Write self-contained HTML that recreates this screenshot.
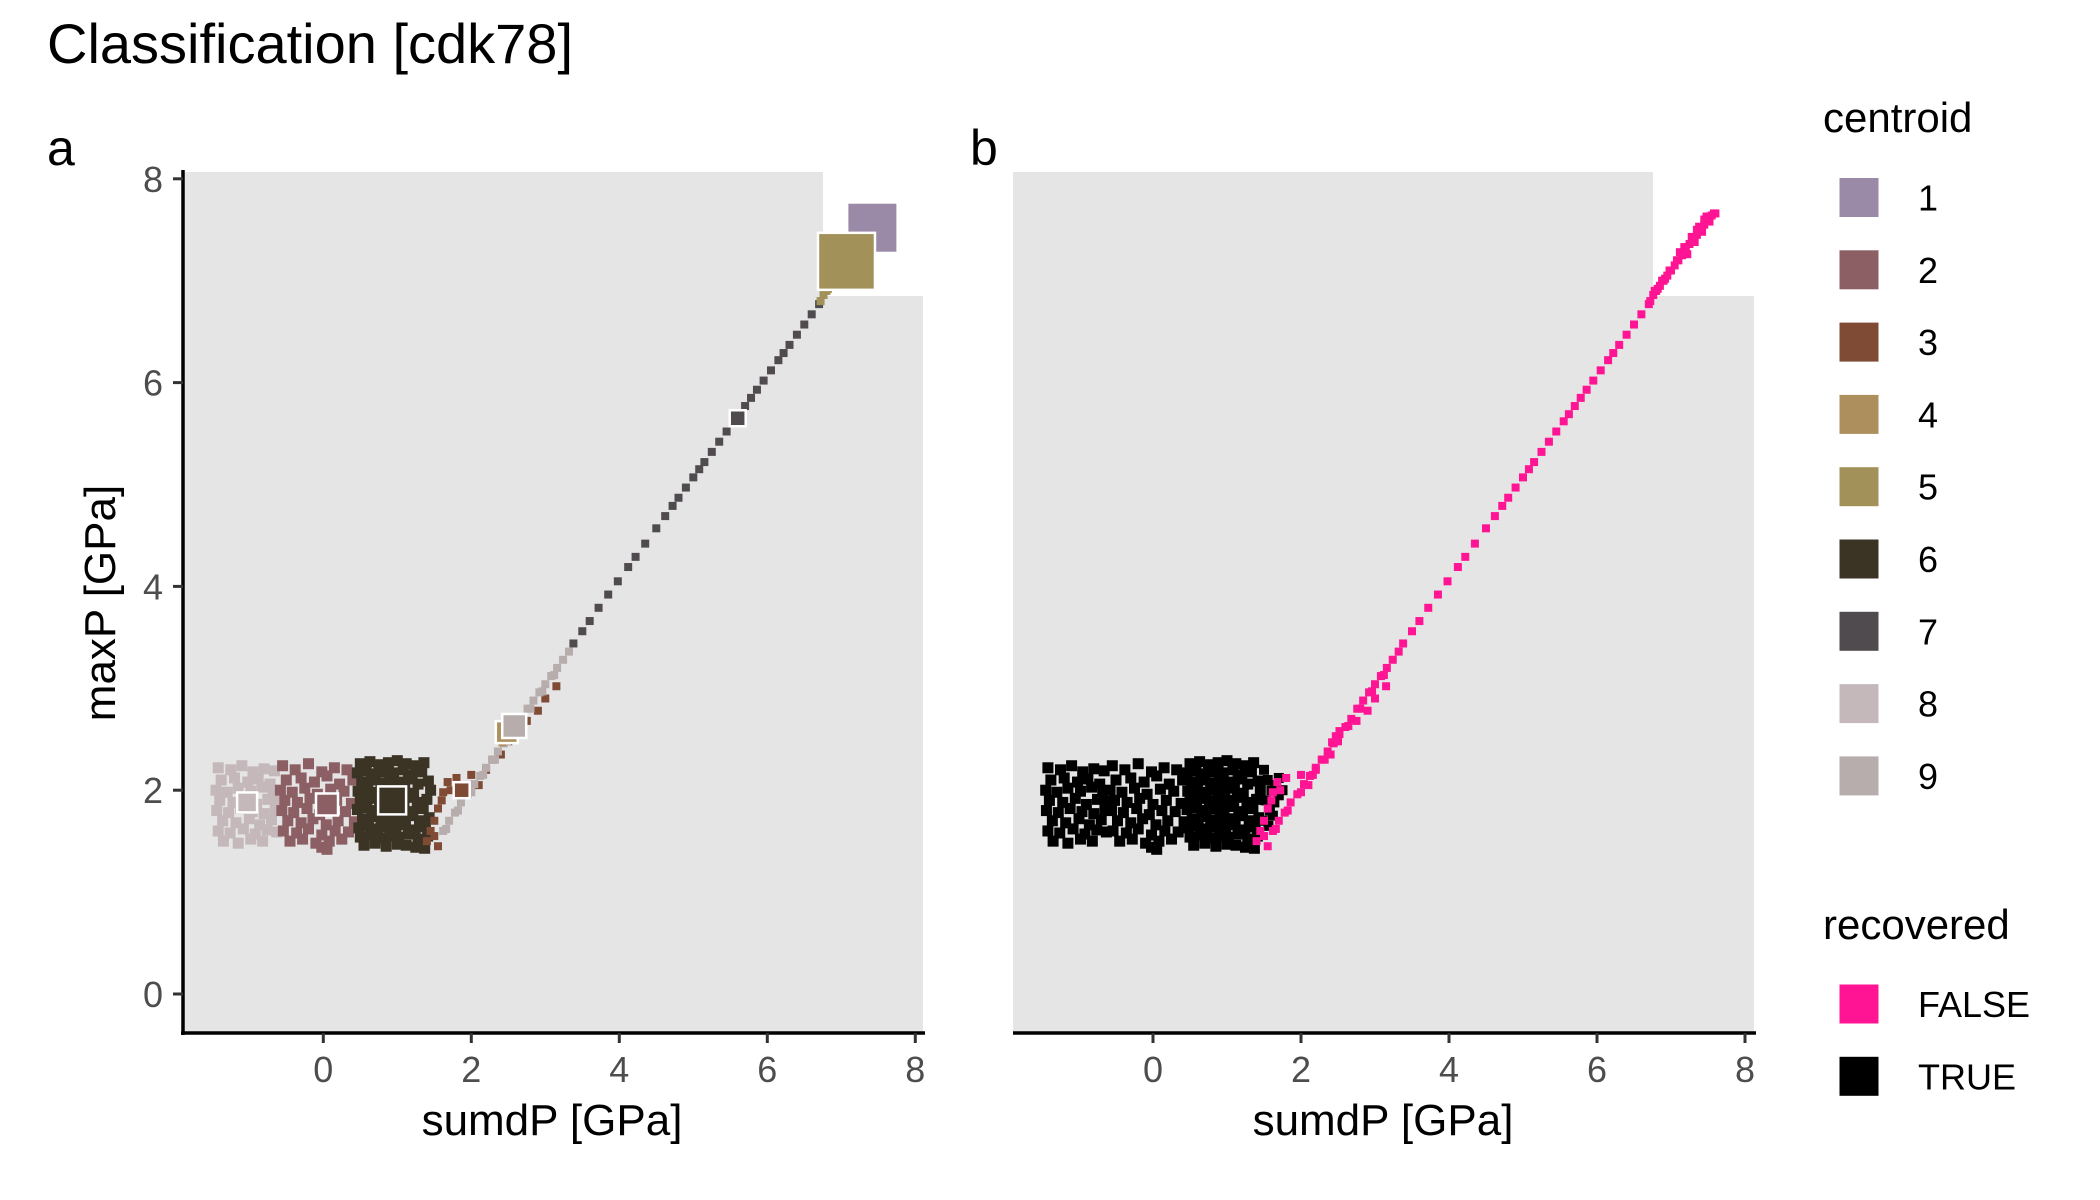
<!DOCTYPE html>
<html><head><meta charset="utf-8"><style>
body{margin:0;background:#fff}
svg{display:block;font-family:"Liberation Sans",Arial,sans-serif}
</style></head><body>
<svg id="chart" width="2100" height="1200" viewBox="0 0 2100 1200">
<text x="47" y="63" font-size="56" fill="#000">Classification [cdk78]</text>
<text x="47" y="165" font-size="50" fill="#000">a</text>
<text x="970" y="165" font-size="50" fill="#000">b</text>
<polygon points="183,172 823,172 823,296 923,296 923,1033 183,1033" fill="#e5e5e5"/>
<polygon points="1013,172 1653,172 1653,296 1754,296 1754,1033 1013,1033" fill="#e5e5e5"/>
<g id="marksA"></g>
<g id="marksB"></g>
<g id="axes"></g>
<text x="552" y="1135" font-size="44" text-anchor="middle" fill="#000">sumdP [GPa]</text>
<text x="1383" y="1135" font-size="44" text-anchor="middle" fill="#000">sumdP [GPa]</text>
<text transform="translate(115,603) rotate(-90)" font-size="44" text-anchor="middle" fill="#000">maxP [GPa]</text>
<g id="legend">
<text x="1823" y="132" font-size="42" fill="#000">centroid</text>
<text x="1823" y="939" font-size="42" fill="#000">recovered</text>
</g>
</svg>
<script>
const NS="http://www.w3.org/2000/svg";
const clusterIds=[1,2,3,4,5,6,7,8,9];
const clusterColors=["#9a89a7","#8b5f63","#7f4b35","#ad8f5e","#a29159","#3b3324","#504b4e","#c4b8bb","#b8adad"];
const xTicks=[0,2,4,6,8];
const yTicks=[0,2,4,6,8];
const c8x=[-1.42,-1.25,-1.1,-0.95,-0.8,-0.66,-1.38,-1.2,-1.02,-0.88,-0.72,-1.45,-1.3,-1.15,-0.98,-0.83,-0.68,-1.4,-1.22,-1.05,-0.9,-0.75,-0.62,-1.44,-1.28,-1.12,-0.96,-0.8,-0.65,-1.36,-1.18,-1.0,-0.86,-0.7,-1.42,-1.26,-1.08,-0.92,-0.76,-0.63,-1.35,-1.15,-0.98,-0.82];
const c8y=[2.22,2.2,2.24,2.18,2.21,2.19,2.1,2.12,2.08,2.11,2.06,2.0,1.98,2.02,1.99,2.03,1.97,1.9,1.88,1.92,1.86,1.91,1.89,1.8,1.78,1.82,1.79,1.77,1.81,1.7,1.68,1.72,1.66,1.71,1.6,1.58,1.62,1.57,1.61,1.59,1.5,1.48,1.52,1.5];
const c2x=[-0.55,-0.38,-0.2,-0.02,0.15,0.32,-0.5,-0.3,-0.12,0.05,0.22,0.4,-0.58,-0.42,-0.25,-0.08,0.1,0.28,-0.52,-0.35,-0.18,0.0,0.18,0.38,-0.56,-0.4,-0.22,-0.05,0.12,0.3,-0.48,-0.3,-0.14,0.04,0.2,0.42,-0.54,-0.36,-0.2,-0.02,0.16,0.34,-0.45,-0.28,-0.1,0.08,0.25,-0.02,0.05];
const c2y=[2.24,2.2,2.26,2.18,2.22,2.2,2.1,2.12,2.08,2.14,2.06,2.1,2.0,1.98,2.02,1.96,2.01,1.99,1.9,1.88,1.92,1.86,1.9,1.87,1.8,1.78,1.82,1.76,1.8,1.79,1.7,1.68,1.72,1.66,1.7,1.69,1.6,1.58,1.62,1.56,1.6,1.59,1.5,1.52,1.48,1.5,1.52,1.44,1.42];
const c6x=[0.5,0.63,0.75,0.88,1.0,1.12,1.25,1.36,0.46,0.58,0.7,0.83,0.95,1.08,1.2,1.33,0.52,0.65,0.78,0.9,1.03,1.15,1.28,1.42,0.47,0.6,0.72,0.85,0.97,1.1,1.22,1.45,0.5,0.62,0.76,0.88,1.01,1.14,1.27,1.4,0.46,0.59,0.71,0.84,0.96,1.09,1.21,1.35,0.53,0.66,0.78,0.91,1.04,1.16,1.3,1.43,0.48,0.61,0.73,0.86,0.98,1.11,1.24,1.38,0.5,0.64,0.77,0.9,1.02,1.15,1.28,1.41,0.55,0.7,0.85,1.0,1.12,1.25,1.32,1.37];
const c6y=[2.26,2.28,2.25,2.27,2.29,2.26,2.24,2.27,2.17,2.19,2.16,2.18,2.17,2.2,2.15,2.18,2.08,2.1,2.07,2.09,2.08,2.11,2.06,2.09,1.99,2.01,1.98,2.0,1.99,2.02,1.97,2.0,1.9,1.92,1.89,1.91,1.9,1.93,1.88,1.91,1.81,1.83,1.8,1.82,1.81,1.84,1.79,1.82,1.72,1.74,1.71,1.73,1.72,1.75,1.7,1.73,1.63,1.65,1.62,1.64,1.63,1.66,1.61,1.64,1.54,1.56,1.53,1.55,1.54,1.57,1.52,1.55,1.46,1.48,1.45,1.47,1.46,1.44,1.48,1.43];
const c3x=[1.4,1.45,1.5,1.55,1.6,1.68,1.8,2.0,2.1,2.2,2.3,2.4,2.5,2.75,2.9,3.0,3.15,1.55,1.5,1.62,1.72];
const c3y=[1.5,1.6,1.7,1.82,1.9,2.08,2.12,2.15,2.05,2.2,2.3,2.35,2.48,2.68,2.78,2.9,3.02,1.45,1.55,1.98,2.0];
const c9x=[1.62,1.7,1.78,1.86,1.95,2.04,2.12,2.2,2.28,2.36,2.44,2.52,2.6,2.68,2.76,2.84,2.92,3.0,3.08,3.16,3.24,3.32,1.66,1.82,2.0,2.16,2.32,2.48,2.64,2.8,2.96,3.12];
const c9y=[1.6,1.7,1.78,1.88,1.96,2.06,2.14,2.22,2.3,2.38,2.46,2.55,2.62,2.7,2.8,2.88,2.96,3.04,3.12,3.2,3.28,3.36,1.62,1.8,1.98,2.15,2.3,2.48,2.63,2.8,2.97,3.13];
const c4x=[2.42,2.47,2.52];
const c4y=[2.47,2.53,2.58];
const c7x=[3.38,3.5,3.6,3.72,3.85,3.98,4.12,4.22,4.35,4.5,4.62,4.72,4.8,4.9,5.0,5.08,5.15,5.25,5.35,5.45,5.55,5.62,5.7,5.78,5.86,5.95,6.05,6.15,6.22,6.3,6.4,6.5,6.6,6.7];
const c7y=[3.44,3.56,3.66,3.79,3.92,4.05,4.19,4.29,4.42,4.57,4.69,4.79,4.87,4.97,5.07,5.15,5.22,5.32,5.42,5.52,5.62,5.69,5.77,5.85,5.93,6.02,6.12,6.22,6.29,6.37,6.47,6.57,6.67,6.77];
const c5x=[6.72,6.76,6.8,6.85,6.9,6.95,7.0,7.05,7.1,6.82,6.92,6.78,6.88,6.98,7.08];
const c5y=[6.8,6.86,6.9,6.95,7.0,7.05,7.1,7.15,7.2,6.92,7.02,6.9,7.0,7.1,7.2];
const c1x=[7.15,7.2,7.25,7.3,7.35,7.4,7.45,7.5,7.55,7.6,7.22,7.32,7.42,7.52,7.18,7.28,7.38,7.48,7.58,7.12,7.35,7.45];
const c1y=[7.25,7.3,7.36,7.4,7.45,7.5,7.55,7.6,7.64,7.66,7.26,7.38,7.48,7.58,7.33,7.43,7.53,7.63,7.66,7.28,7.5,7.6];
// extra TRUE points only visible in panel b (right edge of blob)
const bTrueX=[1.5,1.55,1.6,1.65,1.7,1.75,1.52,1.58,1.64,1.48,1.56,1.62,1.7];
const bTrueY=[2.2,2.1,2.0,2.05,1.95,2.0,1.9,1.8,1.88,1.7,1.65,1.75,2.12];
const centX=[7.42,0.05,1.87,2.48,7.07,0.93,5.6,-1.03,2.58];
const centY=[7.52,1.86,2.0,2.57,7.19,1.9,5.65,1.88,2.63];
const centSize=[48,22,16,22,57,28,16,20,24];
const recoveredLabels=["FALSE","TRUE"];
const recoveredColors=["#ff1493","#000000"];

const XA=v=>323.3+74*v, XB=v=>1153+74*v, Y=v=>994-101.9*v;
const gA=document.getElementById('marksA'), gB=document.getElementById('marksB'), gAx=document.getElementById('axes'), gL=document.getElementById('legend');
function sq(g,cx,cy,s,fill,stroke){const r=document.createElementNS(NS,'rect');r.setAttribute('x',cx-s/2);r.setAttribute('y',cy-s/2);r.setAttribute('width',s);r.setAttribute('height',s);r.setAttribute('fill',fill);if(stroke){r.setAttribute('stroke',stroke);r.setAttribute('stroke-width',2.5);}g.appendChild(r);return r;}
bTrueX.forEach((x,i)=>{
  const b=sq(gB,XB(x),Y(bTrueY[i]),10,recoveredColors[1]);
  
  
});
const order=[[8,c8x,c8y,true],[2,c2x,c2y,true],[6,c6x,c6y,true],[3,c3x,c3y,false],[9,c9x,c9y,false],[4,c4x,c4y,false],[7,c7x,c7y,false],[5,c5x,c5y,false],[1,c1x,c1y,false]];
order.forEach(([id,xs,ys,rec])=>{
  const s=rec?11:8;
  xs.forEach((x,i)=>{
    const a=sq(gA,XA(x),Y(ys[i]),s,clusterColors[id-1]);
    
    
    const b=sq(gB,XB(x),Y(ys[i]),s,rec?recoveredColors[1]:recoveredColors[0]);
    
    
  });
});
centX.forEach((x,i)=>{
  const r=sq(gA,XA(x),Y(centY[i]),centSize[i],clusterColors[i],i===0?null:'#fff');
  
  
});
function line(x1,y1,x2,y2,w,c,name){const l=document.createElementNS(NS,'line');l.setAttribute('x1',x1);l.setAttribute('y1',y1);l.setAttribute('x2',x2);l.setAttribute('y2',y2);l.setAttribute('stroke',c);l.setAttribute('stroke-width',w);


gAx.appendChild(l);}
function txt(g,x,y,s,anchor,fill,str,name){const t=document.createElementNS(NS,'text');t.setAttribute('x',x);t.setAttribute('y',y);t.setAttribute('font-size',s);t.setAttribute('text-anchor',anchor);t.setAttribute('fill',fill);t.textContent=str;


g.appendChild(t);}
line(183,170,183,1035,3.5,'#000','y-axis-line-a');
line(181,1033,925,1033,3.5,'#000','x-axis-line-a');
line(1013,1033,1756,1033,3.5,'#000','x-axis-line-b');
yTicks.forEach(v=>{line(173,Y(v),183,Y(v),3,'#333','y-tick');txt(gAx,163,Y(v)+13,36,'end','#4d4d4d',String(v),'y-tick-label');});
xTicks.forEach(v=>{
  line(XA(v),1033,XA(v),1043,3,'#333','x-tick-a');txt(gAx,XA(v),1082,36,'middle','#4d4d4d',String(v),'x-tick-label-a');
  line(XB(v),1033,XB(v),1043,3,'#333','x-tick-b');txt(gAx,XB(v),1082,36,'middle','#4d4d4d',String(v),'x-tick-label-b');
});
clusterIds.forEach((id,i)=>{
  const cy=197.5+72.3*i;
  const r=sq(gL,1859,cy,39,clusterColors[i]);
  
  
  txt(gL,1918,cy+13,36,'start','#000',String(id),'legend-label-'+id);
});
recoveredLabels.forEach((lab,i)=>{
  const cy=1004+72.3*i;
  const r=sq(gL,1859,cy,39,recoveredColors[i]);
  
  
  txt(gL,1918,cy+13,36,'start','#000',lab,'legend-label-'+lab.toLowerCase());
});
</script>
</body></html>
